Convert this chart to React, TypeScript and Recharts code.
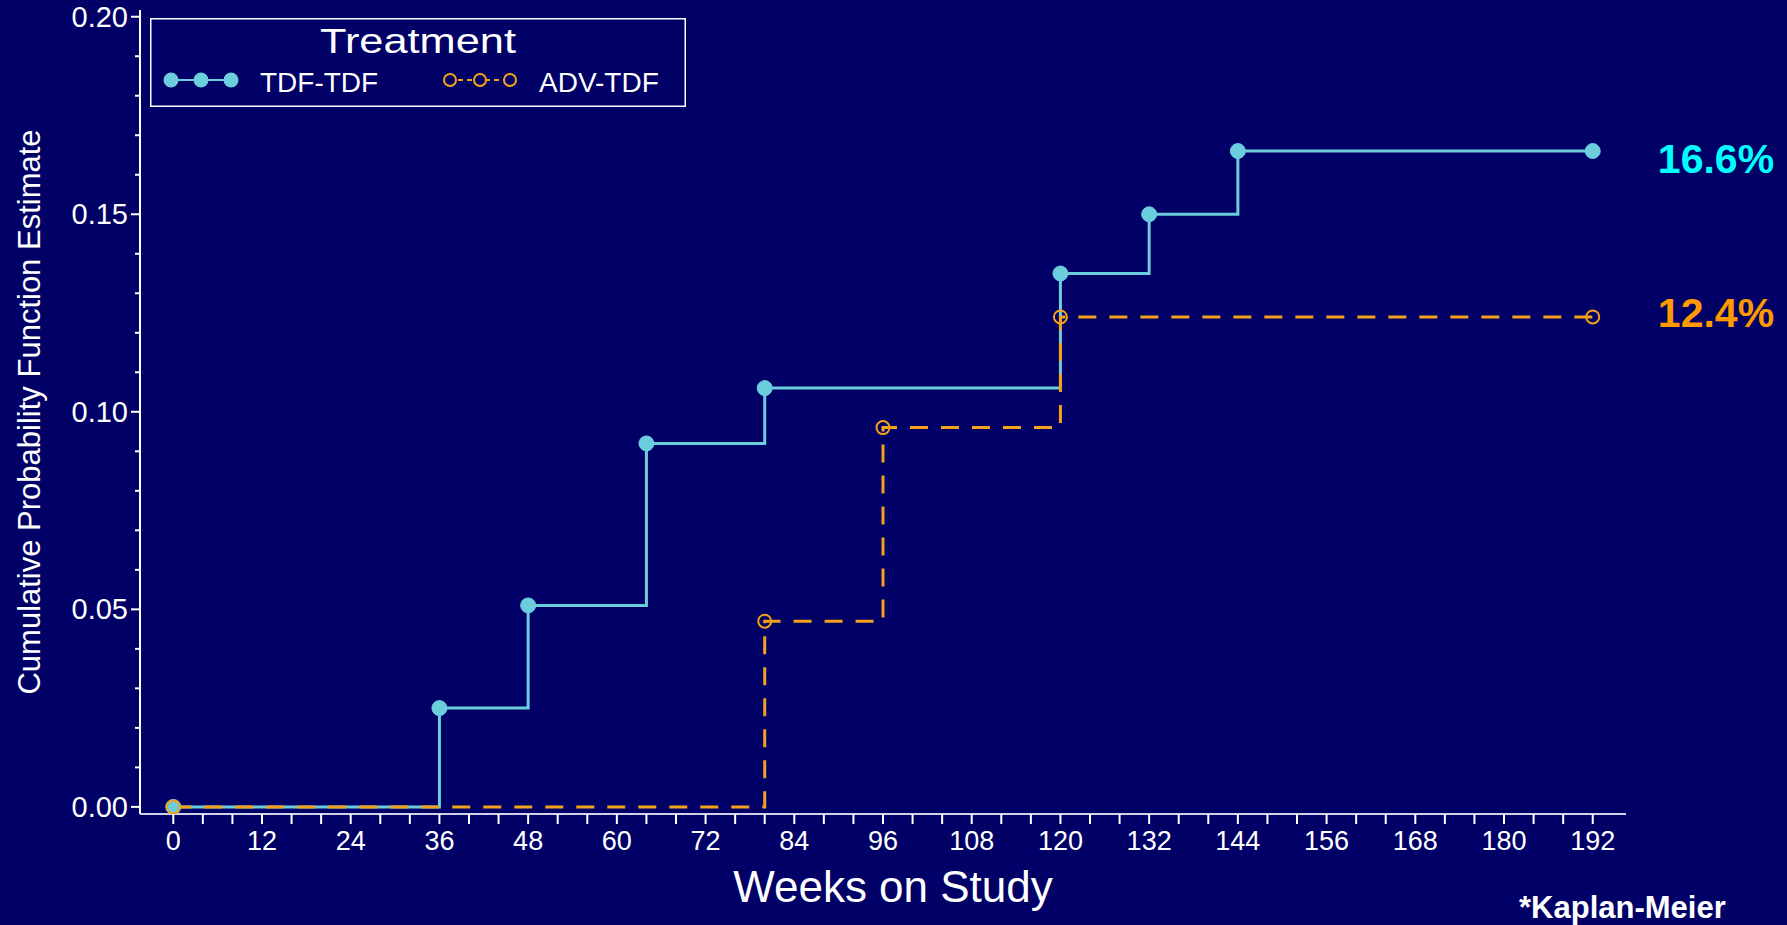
import React from "react";
import { LineChart, Line, XAxis, YAxis, Legend, Label } from "recharts";

// Kaplan-Meier cumulative estimates
const tdfWeeks = [0, 36, 48, 64, 80, 120, 132, 144, 192];
const tdfEstimate = [0, 0.025, 0.051, 0.092, 0.106, 0.135, 0.15, 0.166, 0.166];
const advWeeks = [0, 80, 96, 120, 192];
const advEstimate = [0, 0.047, 0.096, 0.124, 0.124];

const xLabelTicks = [0, 12, 24, 36, 48, 60, 72, 84, 96, 108, 120, 132, 144, 156, 168, 180, 192];
const yLabelTicks = [0, 0.05, 0.1, 0.15, 0.2];
const xMinorStep = 4;
const yMinorStep = 0.01;

const seriesNames = ["TDF-TDF", "ADV-TDF"];
const finalPercents = ["16.6%", "12.4%"];

const BG = "#000066";
const CYAN = "#6ccddc";
const ORANGE = "#f4a11b";
const FONT = "'Liberation Sans', Arial, sans-serif";

const tdfData = tdfWeeks.map((w, i) => ({ week: w, est: tdfEstimate[i] }));
const advData = advWeeks.map((w, i) => ({ week: w, est: advEstimate[i] }));

const xTicks = Array.from({ length: 192 / xMinorStep + 1 }, (_, i) => i * xMinorStep);
const yTicks = Array.from({ length: 21 }, (_, i) => +(i * yMinorStep).toFixed(2));

const isLabelY = (v: number) => yLabelTicks.some((t) => Math.abs(t - v) < 1e-6);

const XTick = (props: any) => {
  const { x, y, payload } = props;
  const labelled = xLabelTicks.includes(payload.value);
  return (
    <g>
      <line x1={x} x2={x} y1={y} y2={y + 10} stroke="#fff" strokeWidth={2} />
      {labelled && (
        <text x={x} y={y + 36} textAnchor="middle" fill="#fff" fontSize={27} fontFamily={FONT}>
          {payload.value}
        </text>
      )}
    </g>
  );
};

const YTick = (props: any) => {
  const { x, y, payload } = props;
  const major = isLabelY(payload.value);
  return (
    <g>
      <line x1={x - (major ? 9 : 5)} x2={x} y1={y} y2={y} stroke="#fff" strokeWidth={2} />
      {major && (
        <text x={x - 12} y={y} dy="0.35em" textAnchor="end" fill="#fff" fontSize={29} fontFamily={FONT}>
          {payload.value.toFixed(2)}
        </text>
      )}
    </g>
  );
};

const tdfDot = (p: any) => (
  <circle key={`t-${p.index}`} cx={p.cx} cy={p.cy} r={7.5} fill={CYAN} stroke={CYAN} strokeWidth={1} />
);
const advDot = (p: any) => (
  <circle key={`a-${p.index}`} cx={p.cx} cy={p.cy} r={6.5} fill="none" stroke={ORANGE} strokeWidth={2} />
);

const LegendBox = (props: any) => {
  const payload = props.payload || [];
  const ordered = seriesNames
    .map((n) => payload.find((e: any) => e.value === n))
    .filter(Boolean);
  const entryX = [20, 299];
  return (
    <svg width={536} height={89} style={{ display: "block", overflow: "visible" }}>
      <rect x={0.75} y={0.75} width={534.5} height={87.5} fill="none" stroke="#fff" strokeWidth={1.5} />
      <text
        x={268}
        y={35}
        textAnchor="middle"
        fill="#fff"
        fontSize={35}
        fontFamily={FONT}
        textLength={196}
        lengthAdjust="spacingAndGlyphs"
      >
        Treatment
      </text>
      {ordered.map((entry: any, i: number) => {
        const x0 = entryX[i];
        const dashed = entry.value === seriesNames[1];
        const color = entry.color;
        return (
          <g key={entry.value}>
            <line
              x1={x0}
              x2={x0 + 62}
              y1={62}
              y2={62}
              stroke={color}
              strokeWidth={2}
              strokeDasharray={dashed ? "5 4" : undefined}
            />
            {[0, 30, 60].map((dx) =>
              dashed ? (
                <circle key={dx} cx={x0 + dx + 1} cy={62} r={6} fill={BG} stroke={color} strokeWidth={2} />
              ) : (
                <circle key={dx} cx={x0 + dx + 1} cy={62} r={7.5} fill={color} />
              )
            )}
            <text x={x0 + 90} y={74} fill="#fff" fontSize={28} fontFamily={FONT}>
              {entry.value}
            </text>
          </g>
        );
      })}
    </svg>
  );
};

export default function App() {
  return (
    <div style={{ position: "absolute", left: 0, top: 0, width: 1787, height: 925, background: BG, fontFamily: FONT }}>
      <LineChart width={1787} height={925} margin={{ top: 10, right: 161, bottom: 110, left: 139 }}>
        <XAxis
          dataKey="week"
          type="number"
          domain={[-4.5, 196.5]}
          ticks={xTicks}
          interval={0}
          tickSize={0}
          tickMargin={0}
          tickLine={false}
          tick={<XTick />}
          height={1}
          axisLine={{ stroke: "#d0d0e8", strokeWidth: 2 }}
          allowDataOverflow
        >
          <Label
            content={(p: any) => {
              const vb = p.viewBox || { x: 140, y: 814, width: 1486 };
              return (
                <text x={vb.x + vb.width / 2 + 10} y={vb.y + 88} textAnchor="middle" fill="#fff" fontSize={44} fontFamily={FONT}>
                  Weeks on Study
                </text>
              );
            }}
          />
        </XAxis>
        <XAxis xAxisId="top" orientation="top" type="number" domain={[-4.5, 196.5]} height={0} tick={false} tickLine={false} axisLine={{ stroke: "#fff", strokeWidth: 2 }} />
        <YAxis
          type="number"
          domain={[-0.0018, 0.2017]}
          ticks={yTicks}
          interval={0}
          tickSize={0}
          tickMargin={0}
          tickLine={false}
          tick={<YTick />}
          width={1}
          axisLine={{ stroke: "#fff", strokeWidth: 2 }}
          allowDataOverflow
        >
          <Label
            content={(p: any) => {
              const vb = p.viewBox || { x: 139, y: 10, height: 804 };
              const cx = vb.x - 99;
              const cy = vb.y + vb.height / 2;
              return (
                <text x={cx} y={cy} transform={`rotate(-90 ${cx} ${cy})`} textAnchor="middle" fill="#fff" fontSize={31} fontFamily={FONT}>
                  Cumulative Probability Function Estimate
                </text>
              );
            }}
          />
        </YAxis>
        <YAxis yAxisId="right" orientation="right" width={0} tick={false} tickLine={false} axisLine={{ stroke: "#fff", strokeWidth: 2 }} />
        <Legend
          layout="horizontal"
          verticalAlign="middle"
          align="center"
          content={<LegendBox />}
          wrapperStyle={{ left: 150, top: 18, width: 536, height: 89 }}
        />
        <Line
          data={tdfData}
          dataKey="est"
          name={seriesNames[0]}
          type="stepAfter"
          stroke={CYAN}
          strokeWidth={3}
          dot={tdfDot}
          activeDot={false}
          isAnimationActive={false}
        />
        <Line
          data={advData}
          dataKey="est"
          name={seriesNames[1]}
          type="stepAfter"
          stroke={ORANGE}
          strokeWidth={3}
          strokeDasharray="18 13"
          dot={advDot}
          activeDot={false}
          isAnimationActive={false}
        />
      </LineChart>
      <svg width={1787} height={925} style={{ position: "absolute", left: 0, top: 0, pointerEvents: "none" }}>
        <text x={1716} y={173} textAnchor="middle" fill="#00ffff" fontSize={41} fontWeight="bold" fontFamily={FONT}>
          {finalPercents[0]}
        </text>
        <text x={1716} y={327} textAnchor="middle" fill="#ff9900" fontSize={41} fontWeight="bold" fontFamily={FONT}>
          {finalPercents[1]}
        </text>
        <text x={1519} y={918} fill="#fff" fontSize={31} fontWeight="bold" fontFamily={FONT}>
          *Kaplan-Meier
        </text>
      </svg>
    </div>
  );
}
